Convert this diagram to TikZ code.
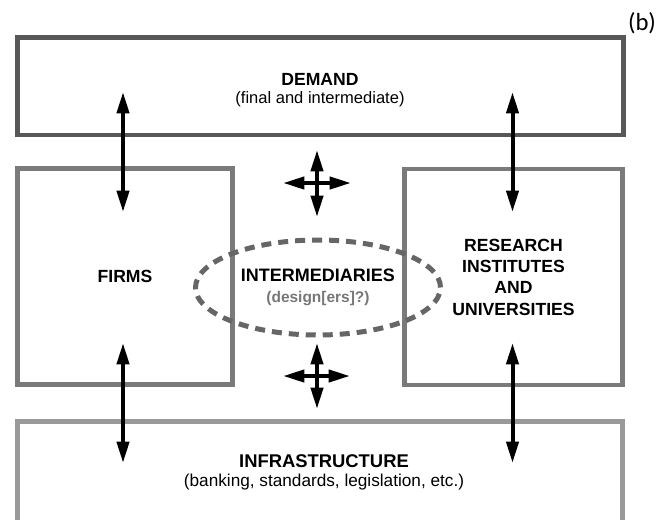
\documentclass[tikz,border=0pt]{standalone}
\usepackage{fontspec}
\setmainfont{Liberation Sans}
\newfontfamily\tagfont{Carlito}
\usetikzlibrary{arrows.meta,shapes.geometric}
\definecolor{edgedark}{HTML}{585858}
\definecolor{edgemid}{HTML}{7A7A7A}
\definecolor{edgelight}{HTML}{999999}
\definecolor{ringgray}{HTML}{666666}
\definecolor{notegray}{HTML}{777777}
\begin{document}
\begin{tikzpicture}[x=0.75pt, y=-0.75pt, every node/.style={inner sep=0pt},
  box/.style={draw, rectangle, line width=3.5pt, align=center},
  heading/.style={font=\bfseries\fontsize{13.2}{16}\selectfont},
  twoway/.style={{Triangle[length=16pt,width=9pt]}-{Triangle[length=16pt,width=9pt]}, line width=3pt}]
\useasboundingbox (0,0) rectangle (669,519);
\clip (0,0) rectangle (669,519);
% the four blocks
\node[box, draw=edgedark, minimum width=454.5pt, minimum height=73.1pt] (demand) at (320.5,86.3) {};
\node[align=center, font=\fontsize{12.4}{13.2}\selectfont] (demandtext) at (320,90)
  {\bfseries\fontsize{13.2}{13.2}\selectfont DEMAND\\(final and intermediate)};
\node[box, heading, draw=edgemid, minimum width=161.5pt, minimum height=162pt] (firms) at (125,276.3) {FIRMS};
\node[box, heading, draw=edgemid, minimum width=163.8pt, minimum height=162pt] (research) at (513.5,277)
  {RESEARCH\\INSTITUTES\\AND\\UNIVERSITIES};
\node[box, draw=edgelight, minimum width=454pt, minimum height=89pt] (infra) at (320,480.7) {};
\node[align=center, font=\fontsize{12.9}{14.5}\selectfont] (infratext) at (324,472.5)
  {\bfseries\fontsize{13.8}{14.5}\selectfont INFRASTRUCTURE\\(banking, standards, legislation, etc.)};
% dashed ring in the middle
\node[ellipse, draw=ringgray, line width=3.75pt, dash pattern=on 7.5pt off 5.25pt,
  minimum width=183.75pt, minimum height=71.25pt, align=center,
  font=\bfseries\fontsize{13.5}{15.5}\selectfont] (broker) at (318,287.5)
  {INTERMEDIARIES\\\color{notegray}\fontsize{11.6}{15.5}\selectfont(design[ers]?)};
\node[font=\tagfont\fontsize{18.5}{18.5}\selectfont] (tag) at (642,23) {(b)};
% arrow ends
\foreach \n/\x/\y in {dl/123/92, fl/123/212, dr/512.5/92, rr/512.5/212,
    fb/123/343, il/123/463, rb/512.5/343, ir/512.5/463,
    c1n/317/150, c1s/317/217, c1w/283/183, c1e/351/183,
    c2n/317/343, c2s/317/409, c2w/283/376, c2e/350/376}
  \coordinate (\n) at (\x,\y);
\foreach \a/\b in {dl/fl, dr/rr, fb/il, rb/ir, c1n/c1s, c1w/c1e, c2n/c2s, c2w/c2e}
  \draw[twoway] (\a) -- (\b);
\end{tikzpicture}
\end{document}
